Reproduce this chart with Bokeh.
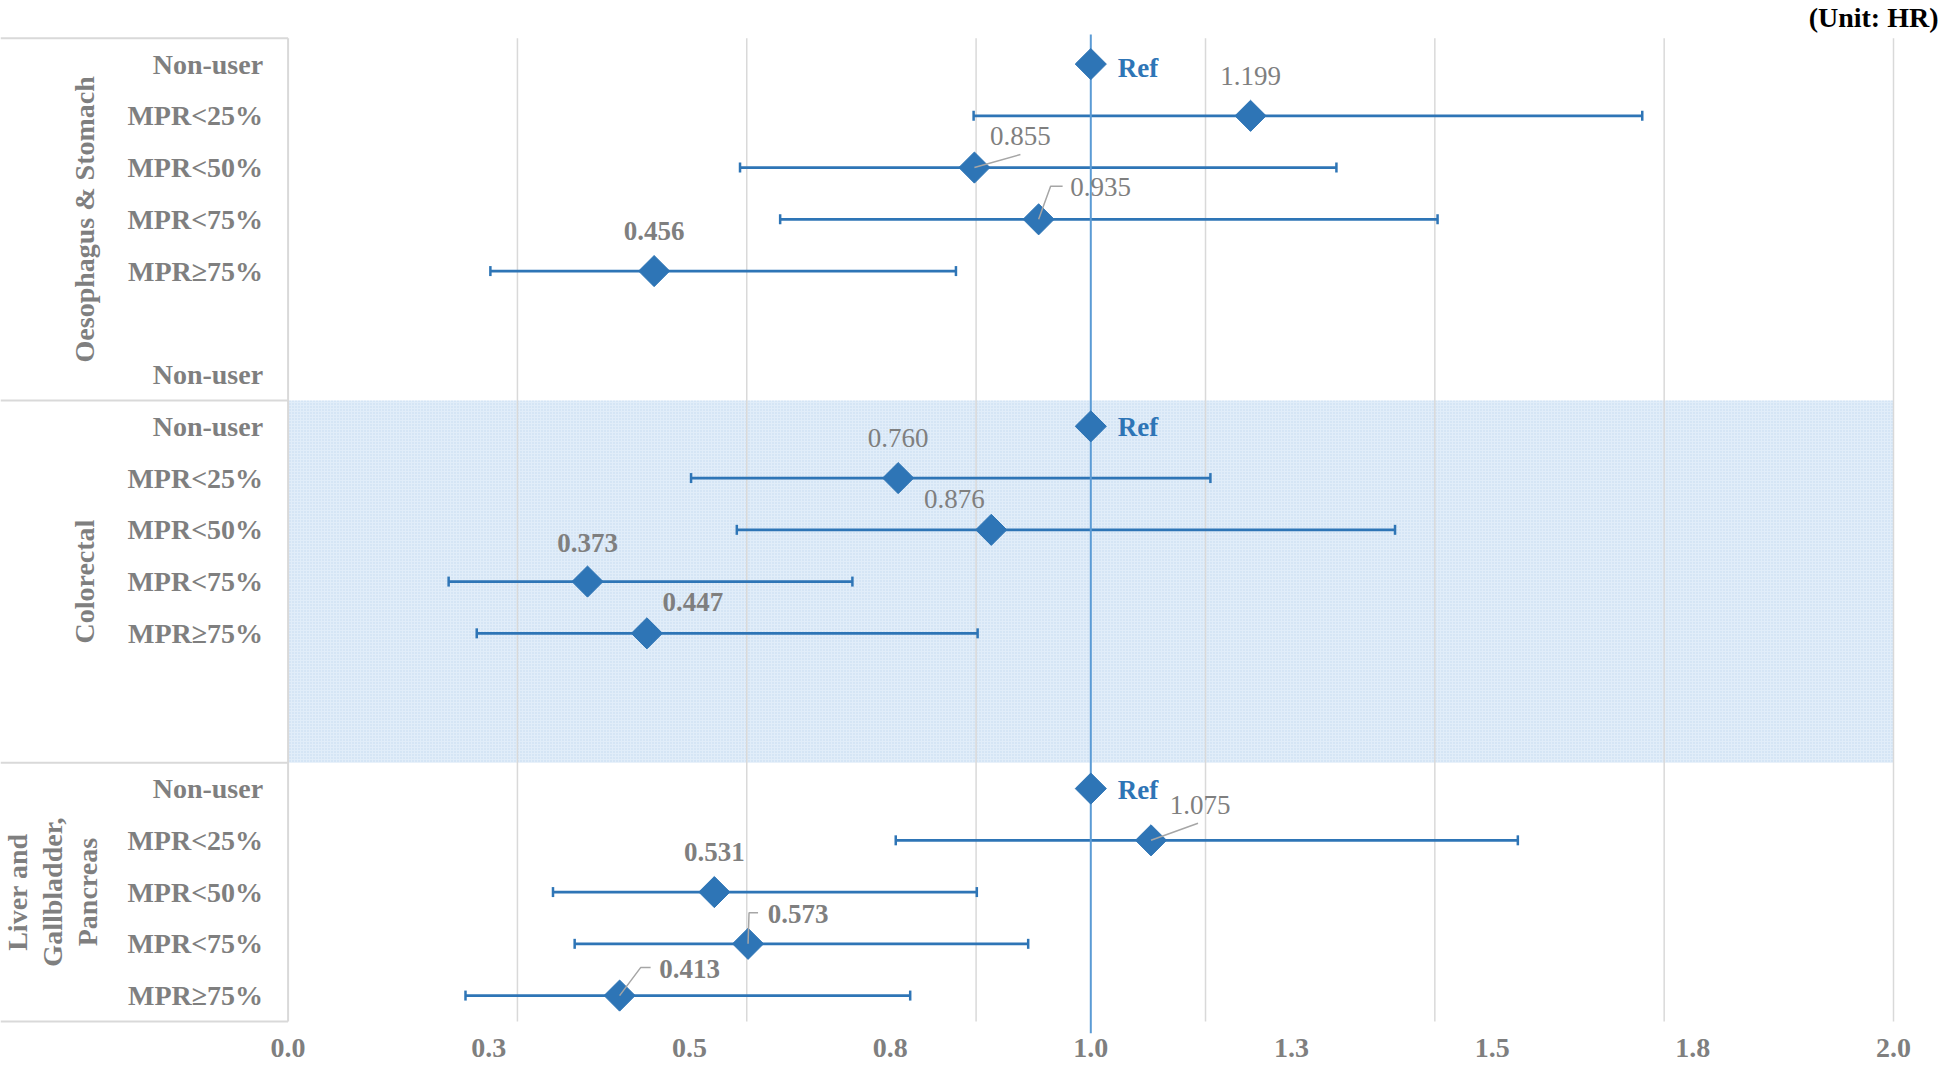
from bokeh.plotting import figure
from bokeh.models import Range1d, FixedTicker, ColumnDataSource, Whisker, TeeHead
from bokeh.core.properties import value
from bokeh.embed import file_html
from bokeh.resources import INLINE
import math

# ---------------- data ----------------
group_names = ["Oesophagus & Stomach", "Colorectal", "Liver and\nGallbladder,\nPancreas"]
group_first_row = [0, 7, 14]
group_last_row = [6, 13, 18]
row_labels = ["Non-user", "MPR<25%", "MPR<50%", "MPR<75%", "MPR\u226575%", "", "Non-user",
              "Non-user", "MPR<25%", "MPR<50%", "MPR<75%", "MPR\u226575%", "", "",
              "Non-user", "MPR<25%", "MPR<50%", "MPR<75%", "MPR\u226575%"]
ref_rows = [0, 7, 14]
ref_hr = [1.0, 1.0, 1.0]
hr_rows = [1, 2, 3, 4, 8, 9, 10, 11, 15, 16, 17, 18]
hr = [1.199, 0.855, 0.935, 0.456, 0.760, 0.876, 0.373, 0.447, 1.075, 0.531, 0.573, 0.413]
ci_low = [0.854, 0.563, 0.613, 0.252, 0.502, 0.559, 0.200, 0.235, 0.757, 0.330, 0.357, 0.221]
ci_high = [1.687, 1.306, 1.432, 0.832, 1.149, 1.379, 0.703, 0.859, 1.532, 0.858, 0.922, 0.775]
significant = [False, False, False, True, False, False, True, True, False, True, True, True]
x_ticks = [0.0, 0.25, 0.5, 0.75, 1.0, 1.25, 1.5, 1.75, 2.0]
x_tick_labels = ["0.0", "0.3", "0.5", "0.8", "1.0", "1.3", "1.5", "1.8", "2.0"]
grid_x = [0.2857, 0.5714, 0.8571, 1.1429, 1.4286, 1.7143, 2.0]

# ---------------- styles ----------------
BLUE = "#2e75b6"
REFLINE = "#5b9bd5"
GRAY_TXT = "#7f7f7f"
GRID = "#d9d9d9"
FONT = "Liberation Serif"

# label offsets (pixels) relative to each point: dx, dy
lab_dx = [0, 46, 62, 0, 0, -37, 0, 46, 49, 0, 50, 70]
lab_dy = [-40, -32, -32, -40, -40, -31, -39, -31, -35, -40, -30, -27]
# leader lines (pixel offsets)
leaders = {1: [(0, 0), (46, -13)],
           2: [(0, 0), (12, -33), (24, -33)],
           8: [(0, 0), (47, -17)],
           10: [(0, 0), (1, -31), (10, -31)],
           11: [(0, 0), (21, -28), (31, -28)]}

W, H = 1940, 1066
PX_X = 802.7
PX_ROW = 51.75
x0_px = 287.6          # pixel position of HR = 0
x_start = (0 - x0_px) / PX_X
x_end = (W - x0_px) / PX_X
row_top_px = 37.7      # pixel position of the top edge of the first row
y_top = -0.5 - row_top_px / PX_ROW
y_bot = -0.5 + (H - row_top_px) / PX_ROW
axis_loc = -0.5 + (1030 - row_top_px) / PX_ROW

p = figure(width=W, height=H, x_range=Range1d(x_start, x_end),
           y_range=Range1d(y_bot, y_top), output_backend="svg", toolbar_location=None,
           min_border_left=0, min_border_right=0, min_border_top=0, min_border_bottom=0)
p.outline_line_color = None
p.grid.visible = False
p.yaxis.visible = False
ax = p.xaxis[0]
ax.fixed_location = axis_loc
ax.ticker = FixedTicker(ticks=x_ticks)
ax.major_label_overrides = {t: s for t, s in zip(x_ticks, x_tick_labels)}
ax.axis_line_color = None
ax.major_tick_line_color = None
ax.minor_tick_line_color = None
ax.major_tick_out = 0
ax.major_tick_in = 0
ax.major_label_standoff = 8
ax.major_label_text_font = FONT
ax.major_label_text_font_style = "bold"
ax.major_label_text_font_size = "28px"
ax.major_label_text_color = GRAY_TXT

# shaded colorectal band
b_top = [group_first_row[1] - 0.5]
b_bot = [group_last_row[1] + 0.5]
p.quad(left=[0], right=[max(x_ticks)], top=b_top, bottom=b_bot,
       fill_color="#e1edf9", line_color=None, hatch_pattern="dot",
       hatch_color="#c2d9f0", hatch_scale=3, hatch_weight=1, level="image")

# grid lines
top_edge = group_first_row[0] - 0.5
bot_edge = group_last_row[-1] + 0.5
p.segment(x0=grid_x, x1=grid_x, y0=[top_edge] * len(grid_x), y1=[bot_edge] * len(grid_x),
          line_color=GRID, line_width=1.5, level="image")

# table lines on the left
h_rows = [group_first_row[0] - 0.5] + [r + 0.5 for r in group_last_row]
p.segment(x0=[x_start] * len(h_rows), x1=[0] * len(h_rows), y0=h_rows, y1=h_rows,
          line_color=GRID, line_width=2, level="image")
p.segment(x0=[0], x1=[0], y0=[top_edge], y1=[bot_edge], line_color=GRID, line_width=2, level="image")

# reference vertical line
p.segment(x0=[1.0], x1=[1.0], y0=[top_edge - 0.07], y1=[bot_edge + 0.23],
          line_color=REFLINE, line_width=2)

# error bars
src = ColumnDataSource(dict(y=hr_rows, hr=hr, lo=ci_low, hi=ci_high))
wh = Whisker(source=src, base="y", lower="lo", upper="hi", dimension="width",
             line_color=BLUE, line_width=2.75, level="underlay",
             lower_head=TeeHead(size=10, line_color=BLUE, line_width=2.5),
             upper_head=TeeHead(size=10, line_color=BLUE, line_width=2.5))
p.add_layout(wh)

# diamonds
p.scatter(x="hr", y="y", source=src, marker="square", angle=math.pi / 4, size=22,
          fill_color=BLUE, line_color=BLUE)
p.scatter(x=ref_hr, y=ref_rows, marker="square", angle=math.pi / 4, size=22,
          fill_color=BLUE, line_color=BLUE)

# leader lines
lx, ly = [], []
for i, pts in leaders.items():
    lx.append([hr[i] + dx / PX_X for dx, dy in pts])
    ly.append([hr_rows[i] + dy / PX_ROW for dx, dy in pts])
p.multi_line(xs=lx, ys=ly, line_color="#a6a6a6", line_width=1.5)

# value labels
for sig in (True, False):
    idx = [i for i in range(len(hr)) if significant[i] == sig]
    p.text(x=[hr[i] for i in idx], y=[hr_rows[i] for i in idx],
           text=["%.3f" % hr[i] for i in idx],
           x_offset=[lab_dx[i] for i in idx], y_offset=[lab_dy[i] for i in idx],
           text_align="center", text_baseline="middle",
           text_font=value(FONT), text_font_size="27px",
           text_font_style="bold" if sig else "normal", text_color=GRAY_TXT)

# Ref labels
p.text(x=ref_hr, y=ref_rows, text=["Ref"] * len(ref_rows), x_offset=27, y_offset=[4, 1, 1],
       text_align="left", text_baseline="middle", text_font=value(FONT),
       text_font_size="27px", text_font_style="bold", text_color=BLUE)

# row labels
rows = list(range(len(row_labels)))
p.text(x=[0] * len(rows), y=rows, text=row_labels, x_offset=-25,
       text_align="right", text_baseline="middle", text_font=value(FONT),
       text_font_size="28px", text_font_style="bold", text_color=GRAY_TXT)

# group labels (rotated)
gx = [(84 - x0_px) / PX_X, (84 - x0_px) / PX_X, (52 - x0_px) / PX_X]
gy = [(a + b) / 2 for a, b in zip(group_first_row, group_last_row)]
p.text(x=gx, y=gy, text=group_names, angle=math.pi / 2,
       text_align="center", text_baseline="middle", text_font=value(FONT),
       text_font_size="28px", text_font_style="bold", text_color=GRAY_TXT,
       text_line_height=1.12)

# unit note
p.text(x=[x_end], y=[-0.5 - (row_top_px - 17) / PX_ROW], text=["(Unit: HR)"],
       x_offset=-2, text_align="right", text_baseline="middle", text_font=value(FONT),
       text_font_size="28px", text_font_style="bold", text_color="#000000")

open("out.html", "w").write(file_html(p, INLINE))
